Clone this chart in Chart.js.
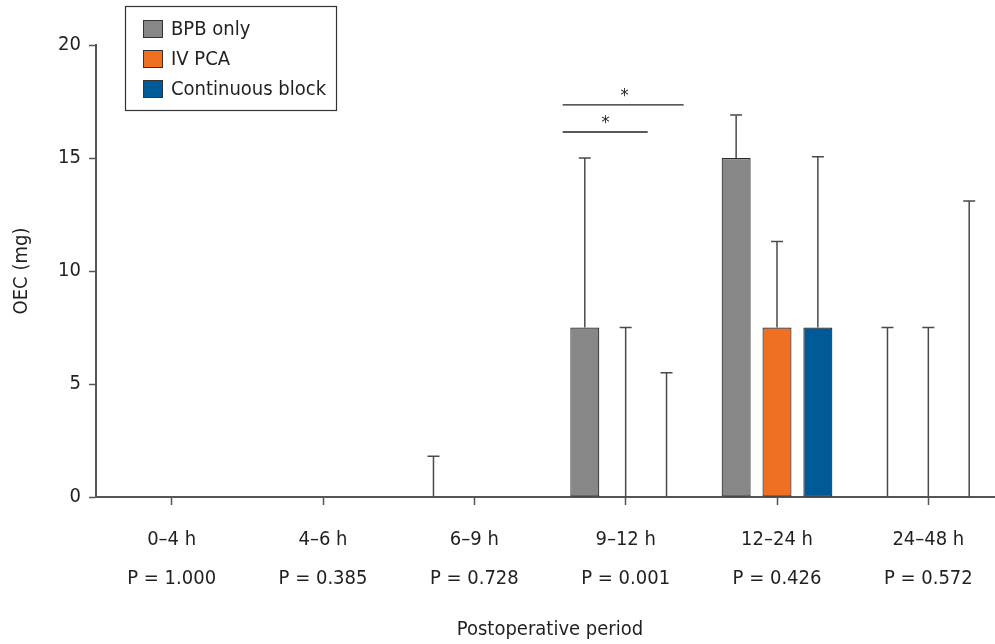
<!DOCTYPE html>
<html>
<head>
<meta charset="utf-8">
<script src="https://cdn.jsdelivr.net/npm/chart.js@4.4.1/dist/chart.umd.min.js"></script>
<style>
  html, body { margin: 0; padding: 0; background: #fff; overflow: hidden; }
  #wrap { width: 1004px; height: 644px; position: relative; }
</style>
</head>
<body>
<div id="wrap"><canvas id="grafico"></canvas></div>
<script>
// datos
const categorias = ['0–4 h', '4–6 h', '6–9 h', '9–12 h', '12–24 h', '24–48 h'];
const valoresP = ['P = 1.000', 'P = 0.385', 'P = 0.728', 'P = 0.001', 'P = 0.426', 'P = 0.572'];
const series = ['BPB only', 'IV PCA', 'Continuous block'];
const bpbSolo = [0, 0, 0, 7.5, 15, 0];
const ivPca = [0, 0, 0, 0, 7.5, 0];
const bloqueo = [0, 0, 0, 0, 7.5, 0];
// extremo superior de la barra de error (null = sin barra)
const bpbErr = [null, null, 1.8, 15, 16.9, 7.5];
const ivPcaErr = [null, null, null, 7.5, 11.3, 7.5];
const bloqueoErr = [null, null, null, 5.5, 15.05, 13.1];
const ticksY = [0, 5, 10, 15, 20];

const colores = ['#878787', '#f07022', '#005a98'];
const fuente = "'DejaVu Sans Condensed', 'Liberation Sans Narrow', sans-serif";
const gris = '#555555';
const texto = '#231f20';

const datos = {
  labels: categorias.map((c, i) => [c, valoresP[i]]),
  datasets: [
    { label: series[0], data: bpbSolo, errores: bpbErr, backgroundColor: colores[0] },
    { label: series[1], data: ivPca, errores: ivPcaErr, backgroundColor: colores[1] },
    { label: series[2], data: bloqueo, errores: bloqueoErr, backgroundColor: colores[2] }
  ].map(d => Object.assign(d, {
    borderColor: '#2a2a2a',
    borderWidth: 1.2,
    borderSkipped: false,
    categoryPercentage: 0.81,
    barPercentage: 0.71
  }))
};

// barras de error (solo hacia arriba, con tope centrado)
const barrasError = {
  id: 'barrasError',
  afterDatasetsDraw(chart) {
    const ctx = chart.ctx;
    const y = chart.scales.y;
    ctx.save();
    ctx.strokeStyle = '#4a4a4a';
    ctx.lineWidth = 1.5;
    chart.data.datasets.forEach((ds, i) => {
      const meta = chart.getDatasetMeta(i);
      meta.data.forEach((bar, j) => {
        const e = ds.errores[j];
        if (e === null) return;
        const yTop = y.getPixelForValue(e);
        ctx.beginPath();
        ctx.moveTo(bar.x, bar.y);
        ctx.lineTo(bar.x, yTop);
        ctx.moveTo(bar.x - 6, yTop);
        ctx.lineTo(bar.x + 6, yTop);
        ctx.stroke();
      });
    });
    ctx.restore();
  }
};

// lineas de significancia y leyenda con marco
const extras = {
  id: 'extras',
  afterDraw(chart) {
    const ctx = chart.ctx;
    const x = chart.scales.x;
    const y = chart.scales.y;
    const c = x.getPixelForValue(3);
    ctx.save();
    ctx.strokeStyle = '#222';
    ctx.lineWidth = 1.3;
    ctx.fillStyle = texto;
    ctx.font = '18px ' + fuente;
    ctx.textAlign = 'center';
    ctx.textBaseline = 'middle';
    [[17.35, 58, -1], [16.15, 22, -20]].forEach(([v, fin, estrella]) => {
      const py = y.getPixelForValue(v);
      ctx.beginPath();
      ctx.moveTo(c - 63, py);
      ctx.lineTo(c + fin, py);
      ctx.stroke();
      ctx.fillText('*', c + estrella, py - 9);
    });

    // leyenda
    ctx.strokeStyle = '#333';
    ctx.lineWidth = 1.2;
    ctx.strokeRect(125.5, 6.5, 211, 104);
    ctx.font = '20px ' + fuente;
    ctx.textAlign = 'left';
    chart.data.datasets.forEach((ds, i) => {
      const cy = 29 + i * 30;
      ctx.fillStyle = ds.backgroundColor;
      ctx.fillRect(143, cy - 9, 20, 18);
      ctx.strokeStyle = '#333';
      ctx.lineWidth = 1;
      ctx.strokeRect(143.5, cy - 8.5, 19, 17);
      ctx.fillStyle = texto;
      ctx.fillText(ds.label, 171, cy + 1);
    });
    ctx.restore();
  }
};

new Chart(document.getElementById('grafico'), {
  type: 'bar',
  data: datos,
  plugins: [barrasError, extras],
  options: {
    responsive: true,
    maintainAspectRatio: false,
    animation: false,
    layout: { padding: { top: 45, right: 0, left: 0, bottom: 0 } },
    plugins: {
      legend: { display: false },
      tooltip: { enabled: false }
    },
    scales: {
      x: {
        grid: { display: true, offset: false, drawOnChartArea: false, drawTicks: true, tickLength: 8, tickColor: gris, tickWidth: 1.5 },
        border: { color: gris, width: 2 },
        ticks: {
          color: texto,
          font: { family: fuente, size: 20, lineHeight: 1.95 },
          padding: 15,
          maxRotation: 0
        },
        title: {
          display: true,
          text: 'Postoperative period',
          color: texto,
          font: { family: fuente, size: 20 },
          padding: { top: 0, bottom: 2 }
        },
        afterFit(s) { s.height = 147; }
      },
      y: {
        min: 0,
        max: 20,
        afterBuildTicks(s) { s.ticks = ticksY.map(v => ({ value: v })); },
        grid: { display: true, drawOnChartArea: false, drawTicks: true, tickLength: 7, tickColor: gris, tickWidth: 1.5 },
        border: { color: gris, width: 2 },
        ticks: {
          color: texto,
          font: { family: fuente, size: 20 },
          padding: 8
        },
        title: {
          display: true,
          text: 'OEC (mg)',
          color: texto,
          font: { family: fuente, size: 20 },
          padding: { top: 10, bottom: 0 }
        },
        afterFit(s) { s.width = 96; }
      }
    }
  }
});
</script>
</body>
</html>
